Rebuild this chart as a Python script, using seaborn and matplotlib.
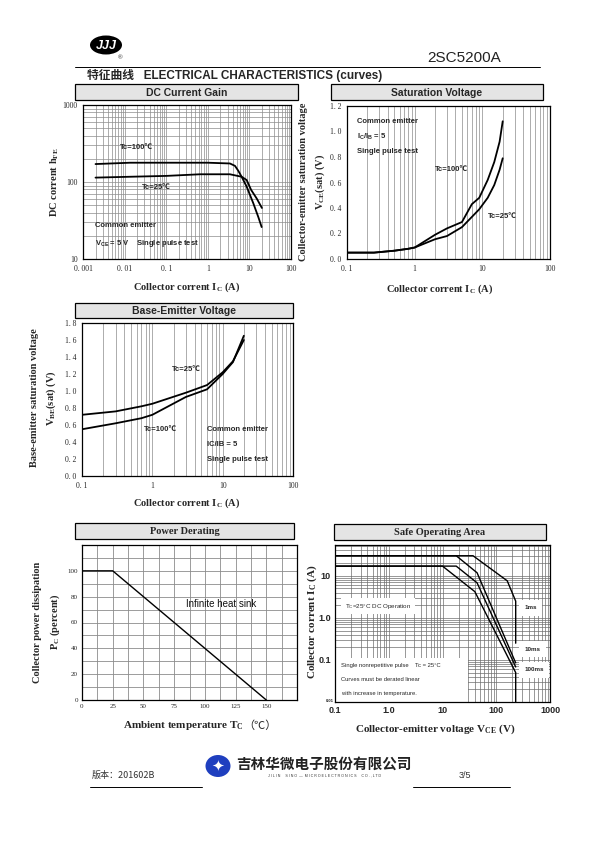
import matplotlib
matplotlib.use("Agg")
import matplotlib.pyplot as plt
from matplotlib.patches import Rectangle, Ellipse
from matplotlib.ticker import LogLocator, FixedLocator, MultipleLocator, NullFormatter
import seaborn as sns

W, H = 595, 842

# DC current gain (hFE vs Ic)
hfe25_ic = [0.002, 0.0135, 0.1, 0.65, 3.4, 6.5, 8.6, 11, 15, 20]
hfe25 = [114, 117, 120, 126, 126, 117, 106, 79, 61, 46]
hfe100_ic = [0.002, 0.0135, 0.1, 1, 3.4, 4.5, 5.4, 6.5, 8.6, 12.4, 16.4, 19.7]
hfe100 = [171, 178, 178, 178, 174, 162, 140, 117, 87, 53, 35, 26]
hfe_xticks = [0.001, 0.01, 0.1, 1, 10, 100]
hfe_xlabels = ["0. 001", "0. 01", "0. 1", "1", "10", "100"]
hfe_yticks = [10, 100, 1000]
hfe_ylabels = ["10", "100", "1000"]

# VCE(sat) vs Ic
vce_ic = [0.1, 0.25, 0.5, 0.8, 1, 2, 3, 5, 7, 9, 12, 15, 18, 20]
vce100 = [0.05, 0.05, 0.065, 0.08, 0.09, 0.19, 0.24, 0.29, 0.43, 0.48, 0.62, 0.76, 0.92, 1.08]
vce25 = [0.05, 0.05, 0.065, 0.08, 0.09, 0.155, 0.18, 0.25, 0.33, 0.39, 0.48, 0.58, 0.70, 0.79]

# VBE(sat) vs Ic
vbe_ic = [0.1, 0.3, 0.7, 1, 3, 6, 10, 14, 20]
vbe25 = [0.72, 0.76, 0.82, 0.85, 0.98, 1.07, 1.22, 1.35, 1.60]
vbe100 = [0.55, 0.62, 0.68, 0.72, 0.93, 1.02, 1.20, 1.34, 1.65]

log_xticks = [0.1, 1, 10, 100]
log_xlabels = ["0. 1", "1", "10", "100"]

# power derating
pd_temp = [0, 25, 150]
pd_pct = [100, 100, 0]
pd_xticks = [0, 25, 50, 75, 100, 125, 150]
pd_yticks = [0, 20, 40, 60, 80, 100]

# safe operating area
soa_dc_v = [0.1, 10, 40, 230, 230]
soa_dc_i = [17, 17, 4.2, 0.05, 0.01]
soa_100ms_v = [0.1, 18, 44, 230]
soa_100ms_i = [17, 17, 6.8, 0.068]
soa_10ms_v = [0.1, 18, 44, 230]
soa_10ms_i = [30, 30, 11.8, 0.085]
soa_1ms_v = [0.1, 37, 160, 230, 230]
soa_1ms_i = [30, 30, 7.6, 2.5, 0.25]
soa_xticks = [0.1, 1, 10, 100, 1000]
soa_xlabels = ["0.1", "1.0", "10", "100", "1000"]
soa_yticks = [0.1, 1, 10]
soa_ylabels = ["0.1", "1.0", "10"]

sns.set_style("white")
plt.rcParams['font.family'] = ['Liberation Sans', 'Noto Sans CJK SC', 'DejaVu Sans']

SANS = ['Liberation Sans', 'Noto Sans CJK SC', 'DejaVu Sans']
SERIF = ['Liberation Serif', 'Noto Sans CJK SC', 'DejaVu Sans']
CJK = ['Noto Sans CJK SC', 'DejaVu Sans']
GRID = '#8c8c8c'

fig = plt.figure(figsize=(W / 100, H / 100), dpi=100)


def axes_px(l, t, r, b):
    return fig.add_axes([l / W, 1 - b / H, (r - l) / W, (b - t) / H])


def ftxt(x, y, s, **kw):
    return fig.text(x / W, 1 - y / H, s, **kw)


def fline(x0, x1, y, lw=0.8, color='black'):
    fig.add_artist(plt.Line2D([x0 / W, x1 / W], [1 - y / H, 1 - y / H],
                              transform=fig.transFigure, color=color, lw=lw))


def title_box(l, t, r, b, label, family):
    fig.patches.append(Rectangle((l / W, 1 - b / H), (r - l) / W, (b - t) / H,
                                 transform=fig.transFigure, facecolor='#e4e4e4',
                                 edgecolor='black', lw=0.9))
    ftxt((l + r) / 2, (t + b) / 2 + 0.5, label, ha='center', va='center',
         fontsize=7.5, fontweight='bold', family=family)


def style_axes(ax):
    for s in ax.spines.values():
        s.set_color('black')
        s.set_linewidth(0.9)
        s.set_visible(True)
    ax.tick_params(which='both', length=0, labelsize=5.5, pad=4)
    for lab in ax.get_xticklabels() + ax.get_yticklabels():
        lab.set_family(SERIF)


def curve(ax, x, y, lw=1.3):
    sns.lineplot(x=x, y=y, ax=ax, color='black', lw=lw, sort=False, estimator=None)


# ---------------- header ----------------
fig.patches.append(Ellipse((106 / W, 1 - 45 / H), 32 / W, 19 / H, transform=fig.transFigure,
                           facecolor='black', edgecolor='none'))
ftxt(106, 46, "JJJ", ha='center', va='center', color='white', fontsize=9,
     fontweight='bold', fontstyle='italic', family=SANS)
ftxt(120, 58, "®", ha='center', va='center', fontsize=4.5, family=SANS)
ftxt(427, 58, "2SC5200A", ha='left', va='center', fontsize=11, family=SANS, color='#222222')
fline(75, 540, 66.5, lw=0.7)
ftxt(87, 75.5, "特征曲线   ELECTRICAL CHARACTERISTICS (curves)", ha='left', va='center',
     fontsize=8.5, fontweight='bold', family=SANS)

# ---------------- DC current gain ----------------
title_box(75, 84, 298, 100, "DC Current Gain", SANS)
ax = axes_px(83, 105, 291, 259)
curve(ax, hfe100_ic, hfe100)
curve(ax, hfe25_ic, hfe25)
ax.set_xscale('log')
ax.set_yscale('log')
ax.set_xlim(0.001, 100)
ax.set_ylim(10, 1000)
ax.xaxis.set_major_locator(FixedLocator(hfe_xticks))
ax.set_xticklabels(hfe_xlabels)
ax.yaxis.set_major_locator(FixedLocator(hfe_yticks))
ax.set_yticklabels(hfe_ylabels)
ax.xaxis.set_minor_locator(LogLocator(base=10, subs=range(2, 10), numticks=20))
ax.yaxis.set_minor_locator(LogLocator(base=10, subs=range(2, 10), numticks=20))
ax.xaxis.set_minor_formatter(NullFormatter())
ax.yaxis.set_minor_formatter(NullFormatter())
ax.grid(which='both', color=GRID, lw=0.5)
style_axes(ax)
ax.set_xlabel(""); ax.set_ylabel("")
ax.text(0.0078, 279, "Tc=100℃", fontsize=5.5, fontweight='bold', family=SANS, va='center')
ax.text(0.026, 84, "Tc=25℃", fontsize=5.5, fontweight='bold', family=SANS, va='center')
ax.text(0.0019, 27, "Common emitter", fontsize=5.5, fontweight='bold', family=SANS, va='center')
ax.text(0.0019, 15.8, "V$\\mathregular{_{CE}}$ = 5 V    Single pulse test", fontsize=5.5,
        fontweight='bold', family=SANS, va='center')
ftxt(187, 287, "Collector corrent I$\\mathregular{_C}$ (A)", ha='center', va='center',
     fontsize=7.5, fontweight='bold', family=SERIF)
ftxt(55, 182, "DC corrent h$\\mathregular{_{FE}}$", ha='center', va='center', rotation=90,
     fontsize=7.5, fontweight='bold', family=SERIF)

# ---------------- saturation voltage ----------------
title_box(331, 84, 543, 100, "Saturation Voltage", SANS)
ax = axes_px(347, 106, 550, 259)
curve(ax, vce_ic, vce100)
curve(ax, vce_ic, vce25)
ax.set_xscale('log')
ax.set_xlim(0.1, 100)
ax.set_ylim(0, 1.2)
ax.xaxis.set_major_locator(FixedLocator(log_xticks))
ax.set_xticklabels(log_xlabels)
ax.xaxis.set_minor_locator(LogLocator(base=10, subs=range(2, 10), numticks=20))
ax.xaxis.set_minor_formatter(NullFormatter())
ax.yaxis.set_major_locator(MultipleLocator(0.2))
ax.set_yticklabels([f"{v:.1f}".replace(".", ". ") for v in ax.get_yticks()])
ax.grid(which='both', axis='x', color=GRID, lw=0.5)
ax.grid(False, axis='y')
style_axes(ax)
ax.set_xlabel(""); ax.set_ylabel("")
ax.text(0.139, 1.08, "Common emitter", fontsize=5.5, fontweight='bold', family=SANS, va='center')
ax.text(0.139, 0.96, "I$\\mathregular{_C}$/I$\\mathregular{_B}$ = 5", fontsize=5.5,
        fontweight='bold', family=SANS, va='center')
ax.text(0.139, 0.84, "Single pulse test", fontsize=5.5, fontweight='bold', family=SANS, va='center')
ax.text(2.0, 0.70, "Tc=100℃", fontsize=5.5, fontweight='bold', family=SANS, va='center')
ax.text(12, 0.33, "Tc=25℃", fontsize=5.5, fontweight='bold', family=SANS, va='center')
ftxt(440, 289, "Collector corrent I$\\mathregular{_C}$ (A)", ha='center', va='center',
     fontsize=7.5, fontweight='bold', family=SERIF)
ftxt(304, 182, "Collector-emitter saturation voltage", ha='center', va='center', rotation=90,
     fontsize=7.5, fontweight='bold', family=SERIF)
ftxt(320, 182, "V$\\mathregular{_{CE}}$(sat) (V)", ha='center', va='center', rotation=90,
     fontsize=7.5, fontweight='bold', family=SERIF)

# ---------------- base-emitter voltage ----------------
title_box(75, 303, 293, 318, "Base-Emitter Voltage", SANS)
ax = axes_px(82, 323, 293, 476)
curve(ax, vbe_ic, vbe25)
curve(ax, vbe_ic, vbe100)
ax.set_xscale('log')
ax.set_xlim(0.1, 100)
ax.set_ylim(0, 1.8)
ax.xaxis.set_major_locator(FixedLocator(log_xticks))
ax.set_xticklabels(log_xlabels)
ax.xaxis.set_minor_locator(LogLocator(base=10, subs=range(2, 10), numticks=20))
ax.xaxis.set_minor_formatter(NullFormatter())
ax.yaxis.set_major_locator(MultipleLocator(0.2))
ax.set_yticklabels([f"{v:.1f}".replace(".", ". ") for v in ax.get_yticks()])
ax.grid(which='both', axis='x', color=GRID, lw=0.5)
ax.grid(False, axis='y')
style_axes(ax)
ax.set_xlabel(""); ax.set_ylabel("")
ax.text(1.89, 1.25, "Tc=25℃", fontsize=5.5, fontweight='bold', family=SANS, va='center')
ax.text(0.75, 0.55, "Tc=100℃", fontsize=5.5, fontweight='bold', family=SANS, va='center')
ax.text(5.9, 0.55, "Common emitter", fontsize=5.5, fontweight='bold', family=SANS, va='center')
ax.text(5.9, 0.37, "IC/IB = 5", fontsize=5.5, fontweight='bold', family=SANS, va='center')
ax.text(5.9, 0.19, "Single pulse test", fontsize=5.5, fontweight='bold', family=SANS, va='center')
ftxt(187, 503, "Collector corrent I$\\mathregular{_C}$ (A)", ha='center', va='center',
     fontsize=7.5, fontweight='bold', family=SERIF)
ftxt(35, 398, "Base-emitter saturation voltage", ha='center', va='center', rotation=90,
     fontsize=7.5, fontweight='bold', family=SERIF)
ftxt(51, 398, "V$\\mathregular{_{BE}}$(sat) (V)", ha='center', va='center', rotation=90,
     fontsize=7.5, fontweight='bold', family=SERIF)

# ---------------- power derating ----------------
title_box(75, 523, 294, 539, "Power Derating", SERIF)
ax = axes_px(82, 545, 297, 700)
curve(ax, pd_temp, pd_pct, lw=1.0)
ax.set_xlim(0, 175)
ax.set_ylim(0, 120)
ax.xaxis.set_major_locator(FixedLocator(pd_xticks))
ax.yaxis.set_major_locator(FixedLocator(pd_yticks))
ax.xaxis.set_minor_locator(MultipleLocator(12.5))
ax.yaxis.set_minor_locator(MultipleLocator(10))
ax.grid(which='both', color=GRID, lw=0.6)
style_axes(ax)
ax.tick_params(labelsize=5, pad=3)
ax.set_xlabel(""); ax.set_ylabel("")
ax.text(85, 74, "Infinite heat sink", fontsize=7, family=SANS, va='center', color='#111111')
ftxt(244, 726, "Ambient temperature T$\\mathregular{_C}$", ha='right', va='center',
     fontsize=8, fontweight='bold', family=SERIF)
ftxt(243, 726, "（℃）", ha='left', va='center', fontsize=8, family=CJK)
ftxt(38, 622, "Collector power dissipation", ha='center', va='center', rotation=90,
     fontsize=7.5, fontweight='bold', family=SERIF)
ftxt(55, 622, "P$\\mathregular{_C}$ (percent)", ha='center', va='center', rotation=90,
     fontsize=7.5, fontweight='bold', family=SERIF)

# ---------------- safe operating area ----------------
title_box(334, 524, 546, 540, "Safe Operating Area", SERIF)
ax = axes_px(335, 545, 550, 702)
ax.set_xscale('log')
ax.set_yscale('log')
ax.set_xlim(0.1, 1000)
ax.set_ylim(0.01, 54)
ax.xaxis.set_major_locator(FixedLocator(soa_xticks))
ax.set_xticklabels(soa_xlabels)
ax.yaxis.set_major_locator(FixedLocator(soa_yticks))
ax.set_yticklabels(soa_ylabels)
ax.xaxis.set_minor_locator(LogLocator(base=10, subs=range(2, 10), numticks=20))
ax.yaxis.set_minor_locator(LogLocator(base=10, subs=range(2, 10), numticks=20))
ax.xaxis.set_minor_formatter(NullFormatter())
ax.yaxis.set_minor_formatter(NullFormatter())
ax.grid(which='both', color='#6e6e6e', lw=0.5)
ax.add_patch(Rectangle((0.1, 0.01), 29.9, 0.1, facecolor='white', edgecolor='none', zorder=1.5))
curve(ax, soa_dc_v, soa_dc_i, lw=1.0)
curve(ax, soa_100ms_v, soa_100ms_i, lw=1.0)
curve(ax, soa_10ms_v, soa_10ms_i, lw=1.0)
curve(ax, soa_1ms_v, soa_1ms_i, lw=1.0)
style_axes(ax)
ax.tick_params(labelsize=6.5, pad=3)
for lab in ax.get_xticklabels() + ax.get_yticklabels():
    lab.set_family(SANS)
    lab.set_fontweight('bold')
ax.text(0.097, 0.0107, "0.01", fontsize=3, family=SANS, fontweight='bold', ha='right', va='center')
ax.set_xlabel(""); ax.set_ylabel("")
box = dict(facecolor='white', edgecolor='none', pad=2.5)
ax.text(0.153, 1.9, "T$\\mathregular{_C}$=25°C DC Operation", fontsize=4.5, family=SANS,
        va='center', bbox=box, zorder=3)
ax.text(0.13, 0.072, "Single nonrepetitive pulse    Tc = 25°C", fontsize=4.2, family=SANS,
        va='center', zorder=3)
ax.text(0.13, 0.034, "Curves must be derated linear", fontsize=4.2, family=SANS,
        va='center', zorder=3)
ax.text(0.13, 0.016, "with increase in temperature.", fontsize=4.2, family=SANS,
        va='center', zorder=3)
lbox = dict(facecolor='white', edgecolor='none', pad=4)
ax.text(330, 1.73, "1ms", fontsize=4.5, fontweight='bold', family=SANS, va='center',
        bbox=lbox, zorder=3)
ax.text(330, 0.18, "10ms", fontsize=4.5, fontweight='bold', family=SANS, va='center',
        bbox=lbox, zorder=3)
ax.text(330, 0.058, "100ms", fontsize=4.5, fontweight='bold', family=SANS, va='center',
        bbox=lbox, zorder=3)
ftxt(435, 729, "Collector-emitter voltage V$\\mathregular{_{CE}}$ (V)", ha='center', va='center',
     fontsize=8, fontweight='bold', family=SERIF)
ftxt(312, 622, "Collector corrent I$\\mathregular{_C}$ (A)", ha='center', va='center', rotation=90,
     fontsize=8, fontweight='bold', family=SERIF)

# ---------------- footer ----------------
ftxt(92, 775, "版本：201602B", ha='left', va='center', fontsize=6.5, family=CJK, color='#333333')
fline(90, 202, 787, lw=0.7)
fline(413, 510, 787, lw=0.7)
ftxt(459, 775, "3/5", ha='left', va='center', fontsize=6.5, family=SANS, color='#333333')
fig.patches.append(Ellipse((218 / W, 1 - 766 / H), 25 / W, 22 / H, transform=fig.transFigure,
                           facecolor='#1f3fbf', edgecolor='none'))
ftxt(218, 766, "✦", ha='center', va='center', fontsize=11, color='white', family=['DejaVu Sans'])
ftxt(324, 764, "吉林华微电子股份有限公司", ha='center', va='center', fontsize=10.5,
     fontweight='bold', family=CJK, color='#222222')
ftxt(324, 775.5, "J I L I N     S I N O  —  M I C R O E L E C T R O N I C S     C O . , L T D",
     ha='center', va='center', fontsize=2.6, family=SANS, color='#333333')

fig.savefig("out.png", dpi=100)
